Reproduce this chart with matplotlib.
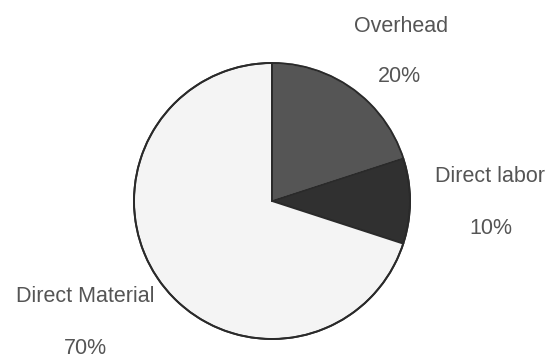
import matplotlib.pyplot as plt

# cost breakdown
labels = ['Overhead', 'Direct labor', 'Direct Material']
shares = [20, 10, 70]
pct_labels = ['20%', '10%', '70%']
colors = ['#555555', '#303030', '#f4f4f4']

fig = plt.figure(figsize=(5.53, 3.58), dpi=100)
ax = fig.add_axes([0, 0, 1, 1])

wedges, _ = ax.pie(shares, colors=colors, startangle=90, counterclock=False,
                   center=(272, 157), radius=138,
                   wedgeprops=dict(edgecolor='#2a2a2a', linewidth=1.3))
wedges[0].set_edgecolor('#8a8a8a')
# redraw outer circle so outline stays dark
circle = plt.Circle((272, 157), 138, fill=False, edgecolor='#2a2a2a', linewidth=1.4)
ax.add_patch(circle)
ax.plot([272, 272], [157, 295], color='#2a2a2a', lw=1.3)

# pie() resets the limits, so set them afterwards
ax.set_xlim(0, 553)
ax.set_ylim(0, 358)
ax.set_aspect('equal')
ax.axis('off')

font = dict(family='Liberation Sans', fontsize=15.5, color='#555555',
            ha='center', va='center')
ax.text(401, 332, labels[0], **font)
ax.text(399, 281, pct_labels[0], **font)
ax.text(490, 181, labels[1], **font)
ax.text(491, 129, pct_labels[1], **font)
ax.text(85, 62, labels[2], **font)
ax.text(85, 10, pct_labels[2], **font)

fig.savefig('out.png', dpi=100, facecolor='white')
